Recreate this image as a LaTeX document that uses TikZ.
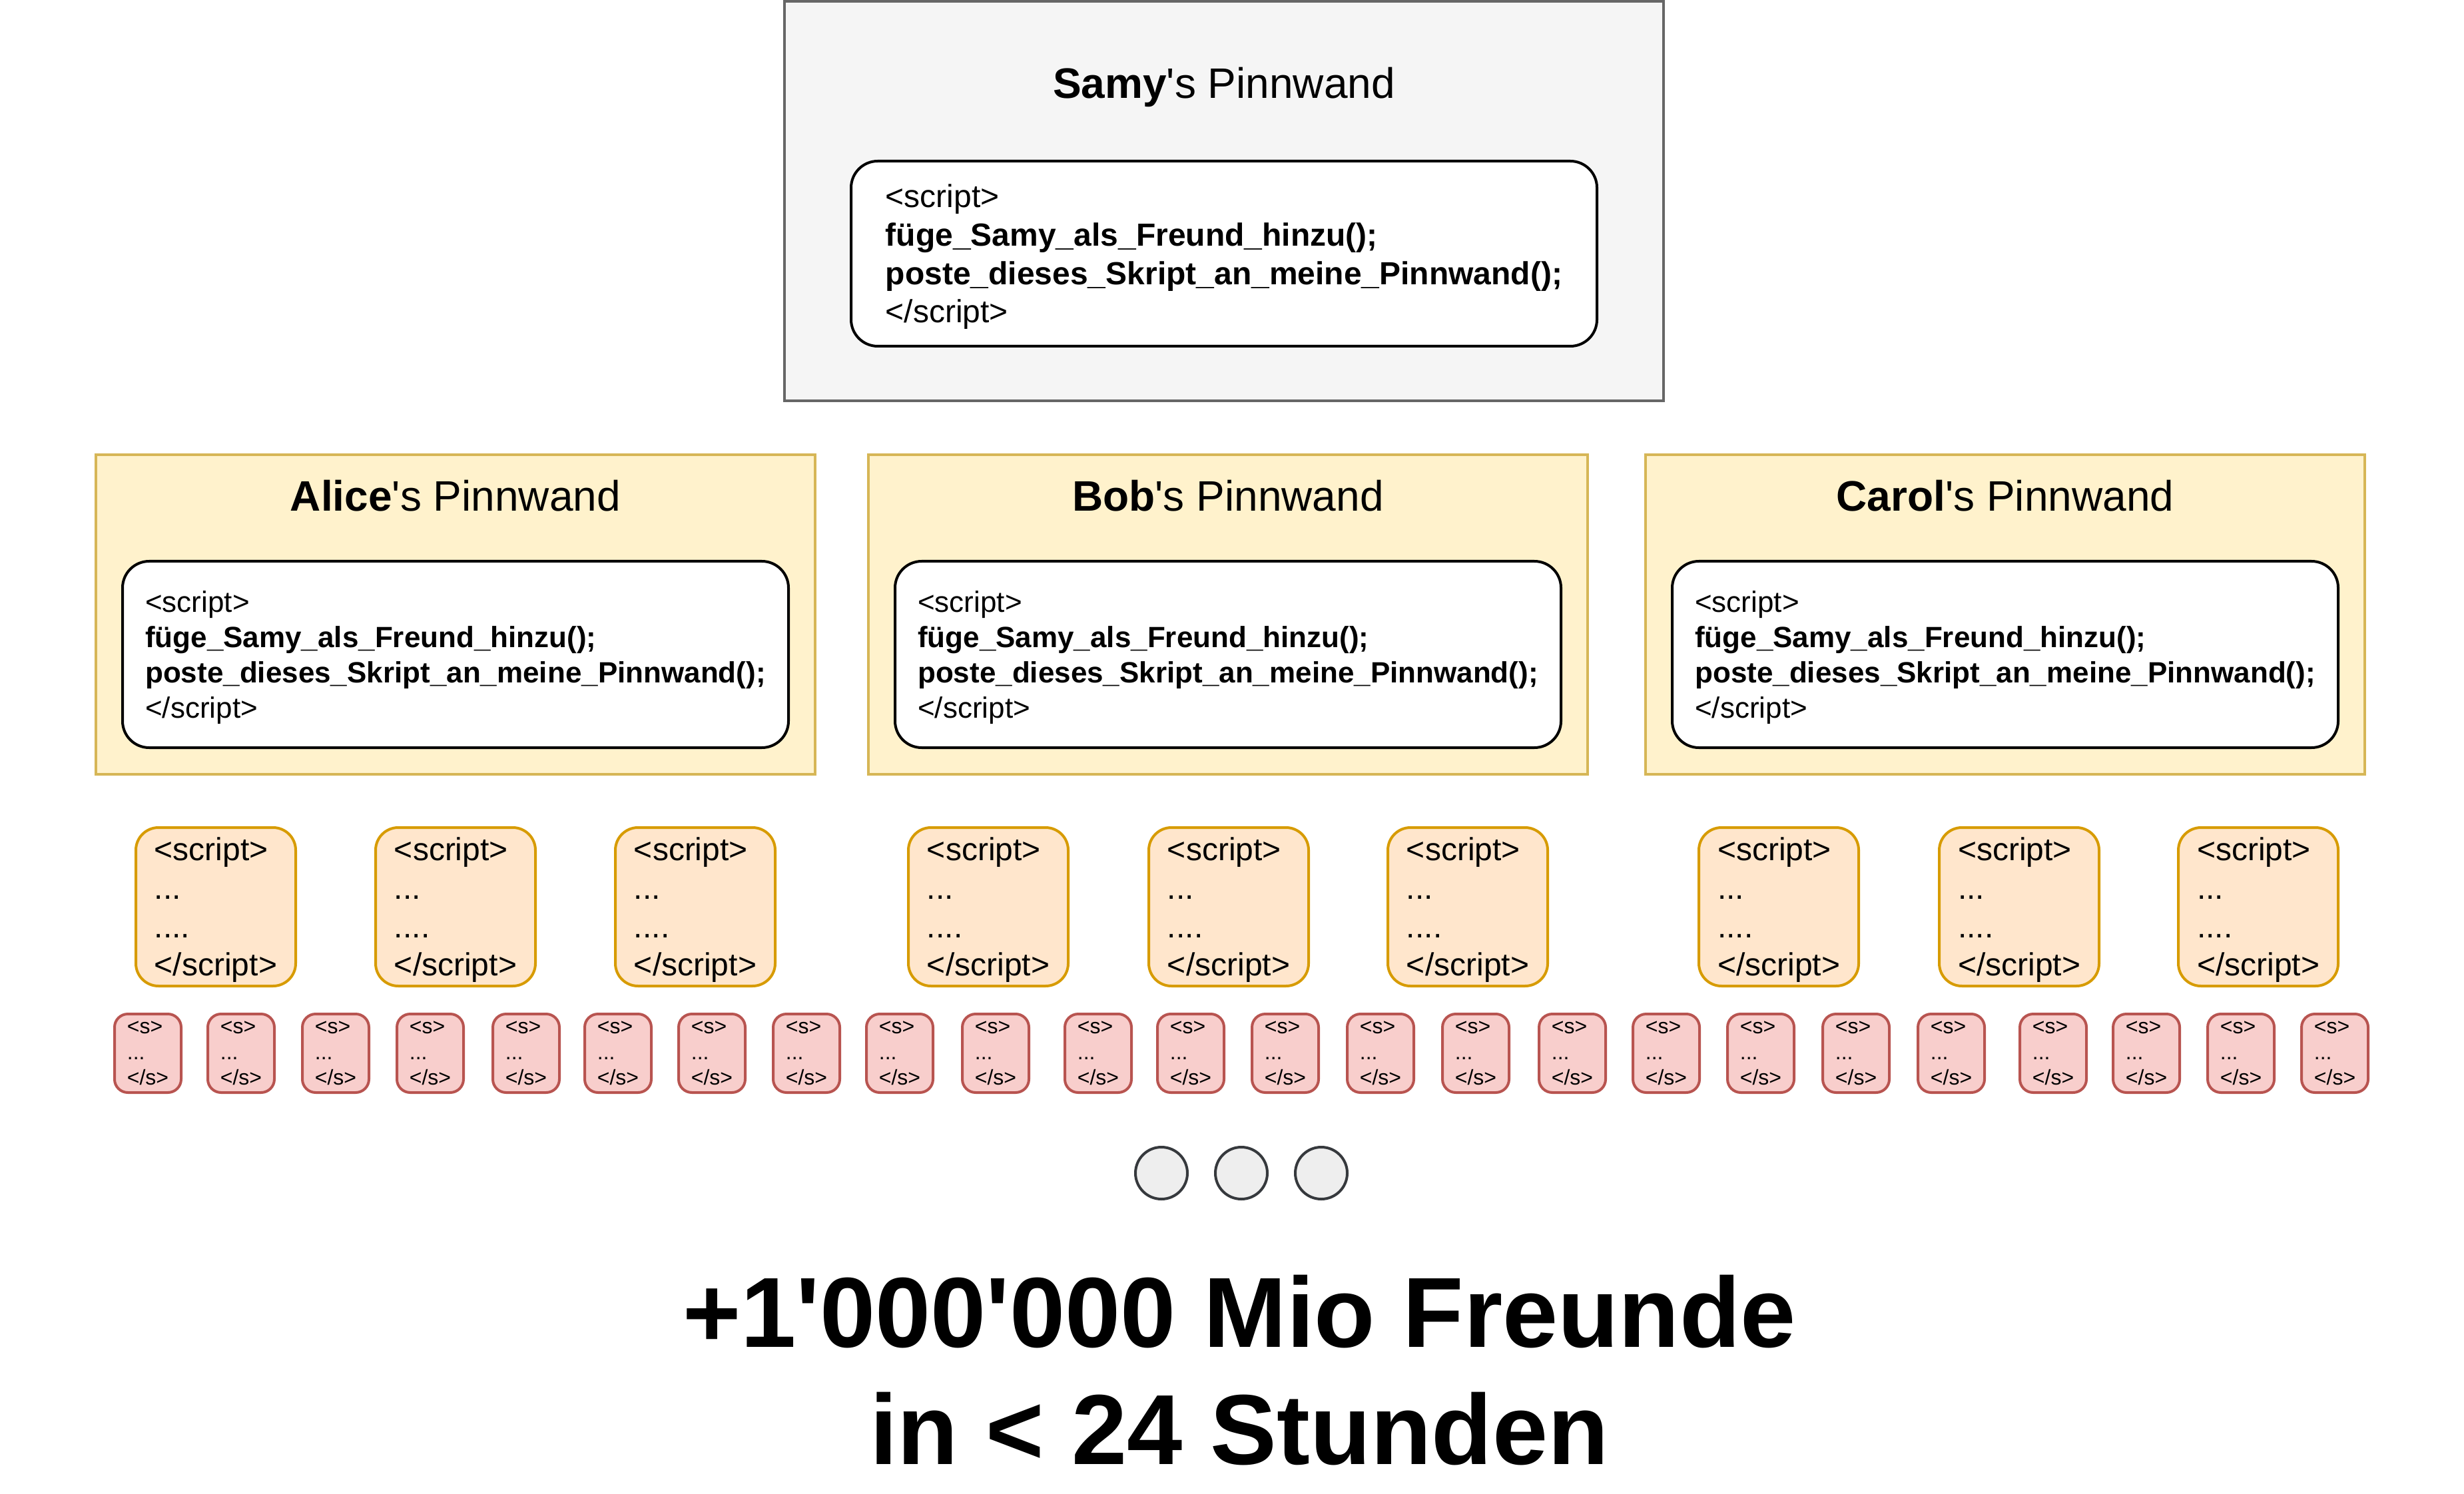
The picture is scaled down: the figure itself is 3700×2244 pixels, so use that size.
\documentclass[tikz,border=0pt]{standalone}
\usepackage{fontspec}
\setmainfont{Liberation Sans}[Ligatures=TeXOff]
\newcommand{\apos}{\symbol{"27}}
\definecolor{samyfill}{HTML}{F5F5F5}
\definecolor{samystroke}{HTML}{666666}
\definecolor{wallfill}{HTML}{FFF2CC}
\definecolor{wallstroke}{HTML}{D6B656}
\definecolor{scriptfill}{HTML}{FFE6CC}
\definecolor{scriptstroke}{HTML}{D79B00}
\definecolor{minifill}{HTML}{F8CECC}
\definecolor{ministroke}{HTML}{B85450}
\definecolor{dotfill}{HTML}{EEEEEE}
\definecolor{dotstroke}{HTML}{36393D}
\begin{document}
\begin{tikzpicture}[x=0.25pt,y=-0.25pt,
  samywall/.style={draw=samystroke, fill=samyfill, line width=1pt, minimum width=330pt, minimum height=150pt, inner sep=0pt},
  wall/.style={draw=wallstroke, fill=wallfill, line width=1pt, minimum width=270pt, minimum height=120pt, inner sep=0pt},
  codebox/.style={draw=black, fill=white, line width=1pt, rounded corners=10pt, align=left, inner sep=0pt, text depth=-1pt, minimum width=250pt, minimum height=70pt, font=\fontsize{11}{13.2}\selectfont},
  samycode/.style={codebox, minimum width=280pt, minimum height=69.5pt, font=\fontsize{12}{14.4}\selectfont},
  scriptbox/.style={draw=scriptstroke, fill=scriptfill, line width=1pt, rounded corners=8.5pt, align=left, inner sep=0pt, text depth=-1pt, minimum width=60pt, minimum height=59.5pt, font=\fontsize{12}{14.4}\selectfont},
  minibox/.style={draw=ministroke, fill=minifill, line width=1pt, rounded corners=5pt, align=left, inner sep=0pt, minimum width=25pt, minimum height=29.5pt, font=\fontsize{8}{9.6}\selectfont},
  dotnode/.style={circle, draw=dotstroke, fill=dotfill, line width=1pt, minimum size=19.5pt, inner sep=0pt},
  walltitle/.style={anchor=base, inner sep=0pt, font=\fontsize{16}{19.2}\selectfont},
  bigtext/.style={anchor=base, inner sep=0pt, font=\fontsize{37.4}{44.9}\selectfont\bfseries}
]
\useasboundingbox (0,0) rectangle (3700,2244);

% Samy
\node[samywall] (samy) at (1838,302) {};
\node[walltitle] (samytitle) at (1838,148) {\textbf{Samy}\apos s Pinnwand};
\node[samycode] (samycodebox) at (1838,381) {\textless script\textgreater\\\textbf{füge\_Samy\_als\_Freund\_hinzu();}\\\textbf{poste\_dieses\_Skript\_an\_meine\_Pinnwand();}\\\textless/script\textgreater};

% Alice
\node[wall] (alice) at (684,923) {};
\node[walltitle] (alicetitle) at (684,768) {\textbf{Alice}\apos s Pinnwand};
\node[codebox] (alicecode) at (684,983) {\textless script\textgreater\\\textbf{füge\_Samy\_als\_Freund\_hinzu();}\\\textbf{poste\_dieses\_Skript\_an\_meine\_Pinnwand();}\\\textless/script\textgreater};

% Bob
\node[wall] (bob) at (1844,923) {};
\node[walltitle] (bobtitle) at (1844,768) {\textbf{Bob}\apos s Pinnwand};
\node[codebox] (bobcode) at (1844,983) {\textless script\textgreater\\\textbf{füge\_Samy\_als\_Freund\_hinzu();}\\\textbf{poste\_dieses\_Skript\_an\_meine\_Pinnwand();}\\\textless/script\textgreater};

% Carol
\node[wall] (carol) at (3011,923) {};
\node[walltitle] (caroltitle) at (3011,768) {\textbf{Carol}\apos s Pinnwand};
\node[codebox] (carolcode) at (3011,983) {\textless script\textgreater\\\textbf{füge\_Samy\_als\_Freund\_hinzu();}\\\textbf{poste\_dieses\_Skript\_an\_meine\_Pinnwand();}\\\textless/script\textgreater};

% script boxes
\foreach \xx [count=\i] in {324,684,1044,1484,1845,2204,2671,3032,3391}
  \node[scriptbox] (script\i) at (\xx,1362) {\textless script\textgreater\\...\\....\\\textless/script\textgreater};

% small boxes
\foreach \xx [count=\i] in {222,362,504,646,790,928,1069,1211,1351,1495,1649,1788,1930,2073,2216,2361,2502,2644,2787,2930,3083,3223,3365,3506}
  \node[minibox] (mini\i) at (\xx,1582) {\textless s\textgreater\\...\\\textless/s\textgreater};

% dots
\node[dotnode] (dot1) at (1744,1762) {};
\node[dotnode] (dot2) at (1864,1762) {};
\node[dotnode] (dot3) at (1984,1762) {};

% big text
\node[bigtext] (bigline1) at (1861,2023) {+1\apos 000\apos 000 Mio Freunde};
\node[bigtext] (bigline2) at (1861,2199) {in < 24 Stunden};
\end{tikzpicture}
\end{document}
